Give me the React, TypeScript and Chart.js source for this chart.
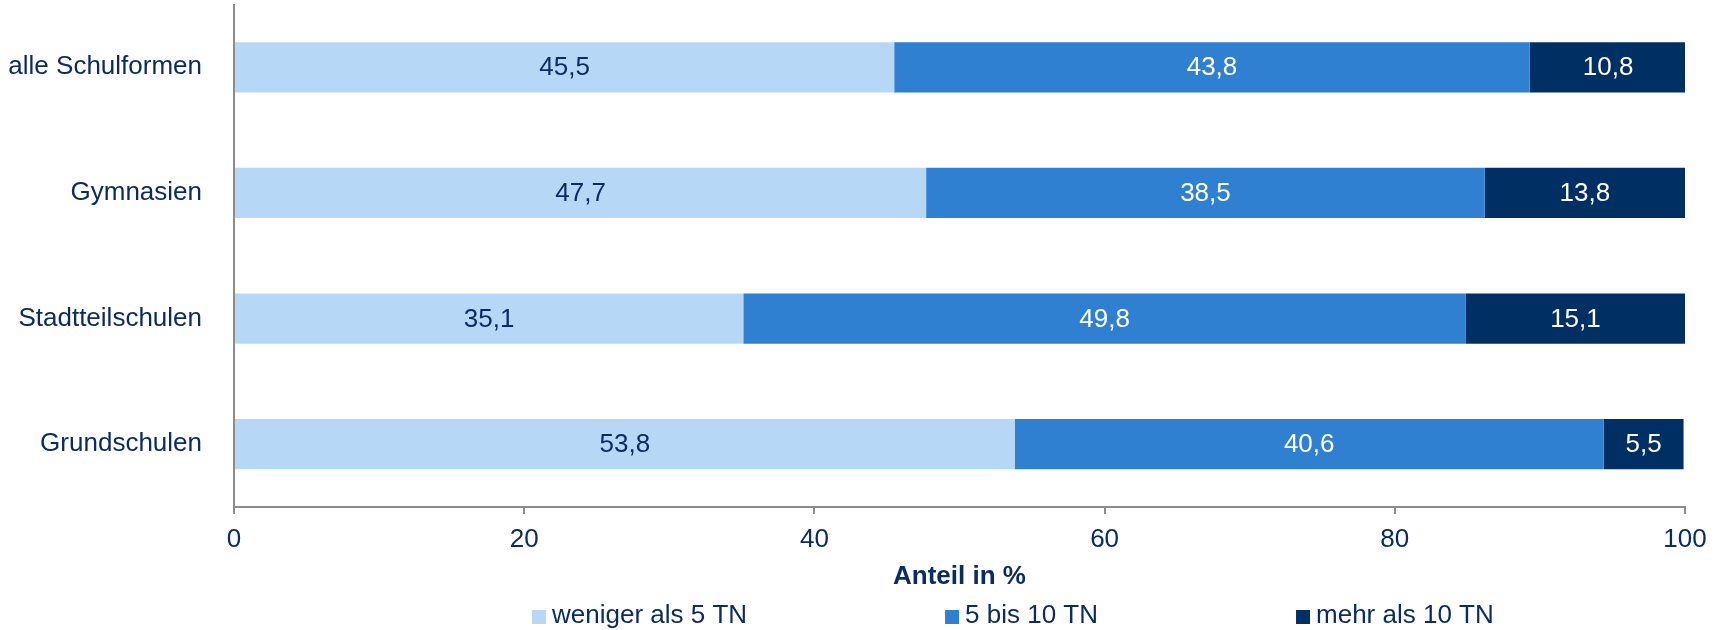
import React, { useEffect, useRef } from "react";
import { Chart, registerables } from "chart.js";

Chart.register(...registerables);

const categories = ["alle Schulformen", "Gymnasien", "Stadtteilschulen", "Grundschulen"];
const seriesLabels = ["weniger als 5 TN", "5 bis 10 TN", "mehr als 10 TN"];
const lessThan5 = [45.5, 47.7, 35.1, 53.8];
const from5to10 = [43.8, 38.5, 49.8, 40.6];
const moreThan10 = [10.8, 13.8, 15.1, 5.5];
const xTicks = [0, 20, 40, 60, 80, 100];
const axisTitle = "Anteil in %";

const COLORS = ["#B7D7F7", "#2F80D1", "#003063"];
const LABEL_COLORS = ["#0B2C61", "#FFFFFF", "#FFFFFF"];
const TEXT = "#0B2C61";
const AXIS = "#8C8C8C";
const FONT = "'Liberation Sans', Arial, sans-serif";
const FS = 26;

const valueLabels = {
  id: "valueLabels",
  afterDatasetsDraw(chart: any) {
    const ctx = chart.ctx;
    ctx.save();
    ctx.font = `${FS}px ${FONT}`;
    ctx.textAlign = "center";
    ctx.textBaseline = "middle";
    chart.data.datasets.forEach((ds: any, di: number) => {
      const meta = chart.getDatasetMeta(di);
      meta.data.forEach((el: any, i: number) => {
        const { x, y, base } = el.getProps(["x", "y", "base"], true);
        const v = ds.data[i];
        ctx.fillStyle = LABEL_COLORS[di];
        ctx.fillText(v.toFixed(1).replace(".", ","), (x + base) / 2, y + 1);
      });
    });
    ctx.restore();
  },
};

const customLegend = {
  id: "customLegend",
  afterDraw(chart: any) {
    const ctx = chart.ctx;
    ctx.save();
    ctx.font = `${FS}px ${FONT}`;
    ctx.textAlign = "left";
    ctx.textBaseline = "middle";
    let x = chart.chartArea.left + 298;
    chart.data.datasets.forEach((ds: any) => {
      ctx.fillStyle = ds.backgroundColor;
      ctx.fillRect(x, 610, 14, 14);
      ctx.fillStyle = TEXT;
      ctx.fillText(ds.label, x + 20, 615.5);
      x += 20 + ctx.measureText(ds.label).width + 198;
    });
    ctx.restore();
  },
};

export default function App() {
  const ref = useRef<HTMLCanvasElement>(null);

  useEffect(() => {
    document.body.style.margin = "0";
    const values = [lessThan5, from5to10, moreThan10];
    const chart = new Chart(ref.current as HTMLCanvasElement, {
      type: "bar",
      data: {
        labels: categories,
        datasets: seriesLabels.map((label, i) => ({
          label,
          data: values[i],
          backgroundColor: COLORS[i],
          borderWidth: 0,
          categoryPercentage: 0.4,
          barPercentage: 1,
        })),
      },
      options: {
        indexAxis: "y",
        animation: false,
        responsive: true,
        maintainAspectRatio: false,
        devicePixelRatio: 1,
        layout: { padding: { top: 4.5, right: 36, bottom: 38, left: 0 } },
        plugins: {
          legend: { display: false },
          tooltip: { enabled: false },
        },
        scales: {
          x: {
            stacked: true,
            min: 0,
            max: 100,
            afterBuildTicks: (scale: any) => {
              scale.ticks = xTicks.map((v) => ({ value: v }));
            },
            afterFit: (scale: any) => {
              scale.height = 85;
            },
            grid: {
              display: true,
              drawOnChartArea: false,
              drawTicks: true,
              tickLength: 7,
              color: AXIS,
              lineWidth: 2,
            },
            border: { display: true, color: AXIS, width: 2 },
            ticks: {
              color: TEXT,
              padding: 10,
              font: { family: FONT, size: FS },
              maxRotation: 0,
            },
            title: {
              display: true,
              text: axisTitle,
              color: TEXT,
              font: { family: FONT, size: FS, weight: "bold" },
              padding: { top: 0, bottom: 0 },
            },
          },
          y: {
            stacked: true,
            afterFit: (scale: any) => {
              scale.width = 234;
              scale.paddingTop = 0;
              scale.paddingBottom = 0;
            },
            grid: { display: false },
            border: { display: true, color: AXIS, width: 2 },
            ticks: {
              color: TEXT,
              padding: 24,
              font: { family: FONT, size: FS },
            },
          },
        },
      },
      plugins: [valueLabels, customLegend],
    });
    return () => chart.destroy();
  }, []);

  return (
    <div style={{ position: "relative", width: "1721px", height: "630px" }}>
      <canvas ref={ref} />
    </div>
  );
}
